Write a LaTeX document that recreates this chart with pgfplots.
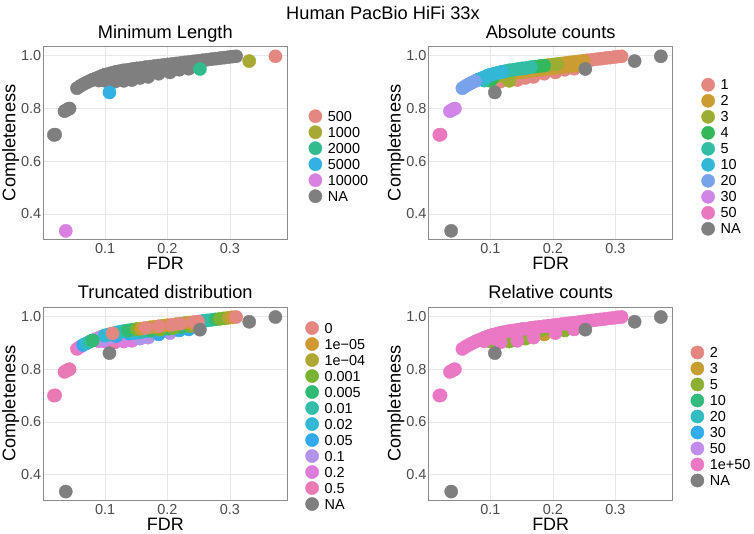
\documentclass[border=0pt]{standalone}
\usepackage{fontspec}
\setmainfont{Liberation Sans}
\usepackage{pgfplots}
\usepackage{pgfplotstable}
\pgfplotsset{compat=1.18}

\definecolor{mixg}{HTML}{B4B4B4}
\newcommand{\hue}[2]{\definecolor{tmp#1}{HTML}{#2}\colorlet{#1}{tmp#1!72!mixg}}
\definecolor{naC}{HTML}{7F7F7F}
\hue{mlA}{F8766D}\hue{mlB}{A3A500}\hue{mlC}{00BF7D}\hue{mlD}{00B0F6}\hue{mlE}{E76BF3}
\hue{abA}{F8766D}\hue{abB}{D39200}\hue{abC}{93AA00}\hue{abD}{00BA38}\hue{abE}{00C19F}
\hue{abF}{00B9E3}\hue{abG}{619CFF}\hue{abH}{DB72FB}\hue{abI}{FF61C3}
\hue{trA}{F8766D}\hue{trB}{DB8E00}\hue{trC}{AEA200}\hue{trD}{64B200}\hue{trE}{00BD5C}
\hue{trF}{00C1A7}\hue{trG}{00BADE}\hue{trH}{00A6FF}\hue{trI}{B385FF}\hue{trJ}{EF67EB}\hue{trK}{FF63B6}
\hue{reA}{F8766D}\hue{reB}{CD9600}\hue{reC}{7CAE00}\hue{reD}{00BE67}\hue{reE}{00BFC4}
\hue{reF}{00A9FF}\hue{reG}{C77CFF}\hue{reH}{FF61CC}

% columns: FDR, completeness, class codes (0 = NA) for min length, absolute counts,
% truncated distribution, relative counts
\pgfplotstableread{
x y ml ab tr re
0.151 0.952 0 5 4 4
0.118 0.939 0 6 7 5
0.100 0.928 0 6 7 6
0.080 0.909 0 6 5 7
0.055 0.877 0 7 11 8
0.060 0.885 0 7 10 8
0.065 0.892 0 7 8 8
0.070 0.898 0 7 7 8
0.075 0.904 0 7 6 8
0.080 0.909 0 6 5 8
0.085 0.914 0 6 10 8
0.090 0.919 0 6 9 8
0.095 0.924 0 6 10 8
0.100 0.928 0 6 7 8
0.106 0.932 0 6 8 8
0.112 0.936 0 6 1 8
0.118 0.939 0 6 7 8
0.124 0.942 0 5 7 8
0.130 0.945 0 5 6 8
0.137 0.947 0 5 5 8
0.144 0.950 0 5 7 8
0.151 0.952 0 5 4 8
0.158 0.954 0 5 2 8
0.165 0.957 0 5 1 8
0.172 0.959 0 4 3 8
0.179 0.961 0 4 2 8
0.186 0.963 0 4 1 8
0.193 0.965 0 3 3 8
0.200 0.967 0 3 2 8
0.207 0.969 0 3 1 8
0.214 0.971 0 2 3 8
0.221 0.973 0 2 1 8
0.228 0.975 0 2 4 8
0.235 0.977 0 2 2 8
0.242 0.979 0 2 1 8
0.249 0.981 0 2 1 8
0.256 0.983 0 1 7 8
0.263 0.985 0 1 6 8
0.270 0.987 0 1 6 8
0.277 0.989 0 1 5 8
0.284 0.991 0 1 4 8
0.291 0.993 0 1 4 8
0.298 0.995 0 1 3 8
0.304 0.997 0 1 2 8
0.310 0.998 0 1 1 8
0.090 0.906 0 5 10 8
0.097 0.912 0 4 9 3
0.104 0.918 0 4 10 8
0.111 0.922 0 3 9 3
0.118 0.926 0 3 8 2
0.125 0.929 0 3 10 3
0.132 0.932 0 2 9 2
0.139 0.935 0 2 8 3
0.146 0.937 0 2 7 2
0.153 0.939 0 2 8 3
0.160 0.942 0 2 6 2
0.167 0.944 0 2 7 3
0.174 0.946 0 2 5 2
0.181 0.948 0 2 8 3
0.188 0.950 0 2 4 2
0.195 0.952 0 2 6 3
0.202 0.954 0 2 5 2
0.209 0.956 0 2 4 3
0.216 0.958 0 2 7 2
0.223 0.960 0 2 5 1
0.230 0.962 0 2 6 3
0.237 0.964 0 2 4 2
0.244 0.966 0 2 3 3
0.100 0.905 0 4 10 3
0.116 0.902 0 1 11 8
0.130 0.905 0 3 10 3
0.143 0.908 0 1 10 8
0.156 0.916 0 1 9 3
0.169 0.920 0 1 9 8
0.186 0.932 0 1 8 2
0.204 0.937 0 1 9 8
0.219 0.947 0 1 8 3
0.234 0.951 0 1 8 8
0.018 0.700 0 9 11 8
0.020 0.701 0 9 11 8
0.035 0.790 0 8 11 8
0.038 0.794 0 8 11 8
0.041 0.798 0 8 11 8
0.043 0.800 0 8 11 8
0.373 0.998 1 0 0 0
0.331 0.980 2 0 0 0
0.252 0.950 3 0 0 0
0.107 0.861 4 0 0 0
0.037 0.336 5 0 0 0
}\cloud

\newcommand{\cls}[3]{\addplot[pts,#1,forget plot,restrict expr to domain={\thisrow{#2}}{#3}] table[x=x,y=y]{\cloud};}
\newcommand{\key}[2]{\addlegendimage{#1}\addlegendentry{#2}}

\pgfplotsset{
  pts/.style={only marks, mark=*, mark size=6.6bp, mark options={draw=none}},
  panel/.style={
    scale only axis, width=244bp, height=193bp, anchor=south west,
    xmin=0.001, xmax=0.392, ymin=0.304, ymax=1.036,
    xtick={0.1,0.2,0.3}, xticklabels={0.1,0.2,0.3},
    ytick={0.4,0.6,0.8,1.0}, yticklabels={0.4,0.6,0.8,1.0},
    major tick length=0pt,
    grid=major, major grid style={color=black!9, line width=0.6bp},
    axis line style={color=black!45, line width=0.7bp},
    tick label style={font=\fontsize{14.5}{16}\selectfont, color=black!70, inner sep=0pt},
    xticklabel style={anchor=north, yshift=-4bp},
    yticklabel style={anchor=east, xshift=-2bp},
    xlabel=FDR, ylabel=Completeness,
    every axis x label/.style={at={(axis description cs:0.5,-0.158)}, anchor=base, inner sep=0pt, text depth=0pt, font=\fontsize{18}{20}\selectfont},
    every axis y label/.style={at={(axis description cs:-0.1148,0.5)}, rotate=90, anchor=base, inner sep=0pt, font=\fontsize{18.3}{20}\selectfont},
    every axis title/.style={at={(axis description cs:0.5,1.0415)}, anchor=base, inner sep=0pt, font=\fontsize{18.3}{20}\selectfont},
    legend image code/.code={\fill[##1] (0bp,0bp) circle[radius=6.6bp];},
    legend cell align=left,
    legend style={draw=none, fill=none, anchor=west, inner sep=0pt, row sep=0pt, column sep=5.7bp,
      font=\fontsize{14.5}{16}\selectfont, nodes={inner sep=0pt, text height=13.2bp, text depth=2.8bp}},
  },
}

\begin{document}
\begin{tikzpicture}
\useasboundingbox (0,0) rectangle (754bp,534bp);
\node[font=\fontsize{18.3}{20}\selectfont, anchor=base, inner sep=0pt] at (383bp,514.6bp) {Human PacBio HiFi 33x};

% Minimum Length
\begin{axis}[panel, at={(43.3bp,294.7bp)}, title={Minimum Length},
  legend style={at={(axis description cs:1.0865,0.4306)}}]
\key{mlA}{500}\key{mlB}{1000}\key{mlC}{2000}\key{mlD}{5000}\key{mlE}{10000}\key{naC}{NA}
\cls{naC}{ml}{-0.5:0.5}
\cls{mlA}{ml}{0.5:1.5}
\cls{mlB}{ml}{1.5:2.5}
\cls{mlC}{ml}{2.5:3.5}
\cls{mlD}{ml}{3.5:4.5}
\cls{mlE}{ml}{4.5:5.5}
\end{axis}

% Absolute counts
\begin{axis}[panel, at={(428.7bp,294.7bp)}, title={Absolute counts},
  legend style={at={(axis description cs:1.1164,0.4275)}}]
\key{abA}{1}\key{abB}{2}\key{abC}{3}\key{abD}{4}\key{abE}{5}\key{abF}{10}\key{abG}{20}\key{abH}{30}\key{abI}{50}\key{naC}{NA}
\cls{abA}{ab}{0.5:1.5}
\cls{abB}{ab}{1.5:2.5}
\cls{abC}{ab}{2.5:3.5}
\cls{abD}{ab}{3.5:4.5}
\cls{abE}{ab}{4.5:5.5}
\cls{abF}{ab}{5.5:6.5}
\cls{abG}{ab}{6.5:7.5}
\cls{abH}{ab}{7.5:8.5}
\cls{abI}{ab}{8.5:9.5}
\cls{naC}{ab}{-0.5:0.5}
\end{axis}

% Truncated distribution
\begin{axis}[panel, at={(43.3bp,34bp)}, title={Truncated distribution},
  legend style={at={(axis description cs:1.073,0.435)}}]
\key{trA}{0}\key{trB}{1e−05}\key{trC}{1e−04}\key{trD}{0.001}\key{trE}{0.005}\key{trF}{0.01}
\key{trG}{0.02}\key{trH}{0.05}\key{trI}{0.1}\key{trJ}{0.2}\key{trK}{0.5}\key{naC}{NA}
\cls{trK}{tr}{10.5:11.5}
\cls{trJ}{tr}{9.5:10.5}
\cls{trI}{tr}{8.5:9.5}
\cls{trH}{tr}{7.5:8.5}
\cls{trG}{tr}{6.5:7.5}
\cls{trF}{tr}{5.5:6.5}
\cls{trE}{tr}{4.5:5.5}
\cls{trD}{tr}{3.5:4.5}
\cls{trC}{tr}{2.5:3.5}
\cls{trB}{tr}{1.5:2.5}
\cls{trA}{tr}{0.5:1.5}
\cls{naC}{tr}{-0.5:0.5}
\end{axis}

% Relative counts
\begin{axis}[panel, at={(428.7bp,34bp)}, title={Relative counts},
  legend style={at={(axis description cs:1.0725,0.4326)}}]
\key{reA}{2}\key{reB}{3}\key{reC}{5}\key{reD}{10}\key{reE}{20}\key{reF}{30}\key{reG}{50}\key{reH}{1e+50}\key{naC}{NA}
\cls{reA}{re}{0.5:1.5}
\cls{reB}{re}{1.5:2.5}
\cls{reC}{re}{2.5:3.5}
\cls{reD}{re}{3.5:4.5}
\cls{reE}{re}{4.5:5.5}
\cls{reF}{re}{5.5:6.5}
\cls{reG}{re}{6.5:7.5}
\cls{reH}{re}{7.5:8.5}
\cls{naC}{re}{-0.5:0.5}
\end{axis}
\end{tikzpicture}
\end{document}
